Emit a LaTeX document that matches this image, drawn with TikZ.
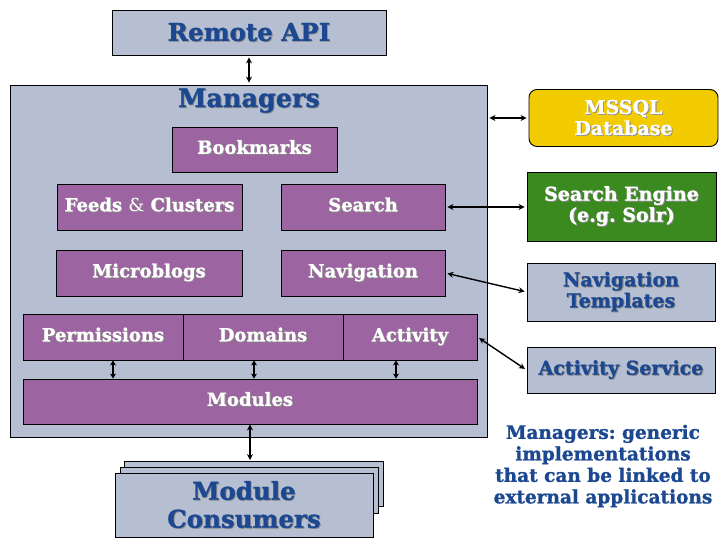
\documentclass[tikz,border=0pt]{standalone}
\usepackage{fontspec}
\setmainfont{DejaVu Serif}[BoldFeatures={FakeBold=1.2}]
\usetikzlibrary{arrows.meta,calc}
\frenchspacing
\definecolor{slate}{RGB}{181,191,209}
\definecolor{purp}{RGB}{156,100,160}
\definecolor{dblue}{RGB}{28,72,145}
\definecolor{ylw}{RGB}{242,204,0}
\definecolor{grn}{RGB}{58,138,32}
\colorlet{shc}{black!45}
\newcommand\sh[1]{\leavevmode\rlap{\kern0.9pt\raisebox{-0.9pt}{\color{shc}#1}}#1}
\tikzset{
  sbox/.style={draw=black,line width=0.9pt,fill=slate,inner sep=0pt,align=center,
     text=dblue,font=\fontsize{19}{21}\selectfont\bfseries},
  pbox/.style={draw=black,line width=0.9pt,fill=purp,inner sep=0pt,align=center,
     text=white,text height=0.85em,text depth=0pt,font=\fontsize{18}{20}\selectfont\bfseries},
  dbl/.style={{Stealth[length=6pt,width=6pt]}-{Stealth[length=6pt,width=6pt]},line width=1.4pt,black},
  sdbl/.style={{Stealth[length=5pt,width=6pt]}-{Stealth[length=5pt,width=6pt]},line width=1.1pt,black},
}
\begin{document}
\begin{tikzpicture}[x=1pt,y=-1pt]
\useasboundingbox (0,0) rectangle (728,546);
% Remote API
\node[sbox,minimum width=274pt,minimum height=45pt,font=\fontsize{24.5}{27}\selectfont\bfseries] (api) at (249,32.5) {\sh{Remote API}};
% Managers
\node[draw=black,line width=0.9pt,fill=slate,minimum width=477pt,minimum height=352pt,inner sep=0pt] (mgr) at (248.5,261) {};
\node[text=dblue,font=\fontsize{25.5}{28}\selectfont\bfseries,inner sep=0pt] (mgrt) at (249,101) {\sh{Managers}};
% inner boxes
\node[pbox,minimum width=165pt,minimum height=45pt] (bm) at (254.5,149.5) {\sh{Bookmarks}};
\node[pbox,minimum width=185pt,minimum height=46pt] (fc) at (149.5,207) {\sh{Feeds {\mdseries\&} Clusters}};
\node[pbox,minimum width=164pt,minimum height=46pt] (se) at (363,207) {\sh{Search}};
\node[pbox,minimum width=186pt,minimum height=46pt] (mb) at (149,273) {\sh{Microblogs}};
\node[pbox,minimum width=164pt,minimum height=46pt] (nav) at (363,273) {\sh{Navigation}};
\node[pbox,minimum width=160pt,minimum height=46pt] (perm) at (103,337) {\sh{Permissions}};
\node[pbox,minimum width=160pt,minimum height=46pt] (dom) at (263,337) {\sh{Domains}};
\node[pbox,minimum width=134pt,minimum height=46pt] (act) at (410,337) {\sh{Activity}};
\node[pbox,minimum width=454pt,minimum height=45pt] (mod) at (250,401.5) {\sh{Modules}};
% module consumers stack
\node[draw=black,line width=0.9pt,fill=slate,minimum width=259pt,minimum height=45pt,inner sep=0pt] (mc3) at (253.5,484) {};
\node[draw=black,line width=0.9pt,fill=slate,minimum width=258pt,minimum height=46pt,inner sep=0pt] (mc2) at (249,490) {};
\node[sbox,minimum width=258pt,minimum height=64pt,font=\fontsize{24.5}{28}\selectfont\bfseries] (mc) at (244,505) {\sh{Module}\\\sh{Consumers}};
% external
\node[draw=black,line width=0.9pt,fill=ylw,rounded corners=8pt,minimum width=189pt,minimum height=57pt,inner sep=0pt,align=center,text=white,font=\fontsize{19}{21}\selectfont\bfseries] (db) at (623.5,118) {\sh{MSSQL}\\\sh{Database}};
\node[draw=black,line width=0.9pt,fill=grn,minimum width=189pt,minimum height=69pt,inner sep=0pt,align=center,text=white,font=\fontsize{19}{21}\selectfont\bfseries] (seng) at (621.5,206.5) {\sh{Search Engine}\\\sh{(e.g. Solr)}};
\node[sbox,minimum width=188pt,minimum height=58pt] (nt) at (621,292) {\sh{Navigation}\\\sh{Templates}};
\node[sbox,minimum width=188pt,minimum height=46pt] (as) at (621,370) {\sh{Activity Service}};
\node[align=center,text=dblue,font=\fontsize{18.5}{21.5}\selectfont\bfseries,inner sep=0pt] (note) at (603,466) {Managers: generic\\implementations\\that can be linked to\\external applications};
% connectors
\draw[dbl,shorten <=2pt,shorten >=2pt] (api.south) -- (api.south |- mgr.north);
\draw[dbl,shorten <=2pt,shorten >=2pt] (mgr.east |- db.west) -- (db.west);
\draw[dbl,shorten <=2pt,shorten >=2pt] (se.east) -- (se.east -| seng.west);
\draw[dbl,shorten <=2pt,shorten >=2pt] (nav.east) -- (nt.west);
\draw[dbl,shorten <=2pt,shorten >=2pt] (act.east) -- (as.west);
\draw[sdbl] ($(perm.south)+(10,0)$) -- ($(perm.south |- mod.north)+(10,0)$);
\draw[sdbl] ($(dom.south)+(-9,0)$) -- ($(dom.south |- mod.north)+(-9,0)$);
\draw[sdbl] ($(act.south)+(-14,0)$) -- ($(act.south |- mod.north)+(-14,0)$);
\draw[dbl,shorten >=1pt] (mod.south) -- (mod.south |- mc3.north);
\end{tikzpicture}
\end{document}
